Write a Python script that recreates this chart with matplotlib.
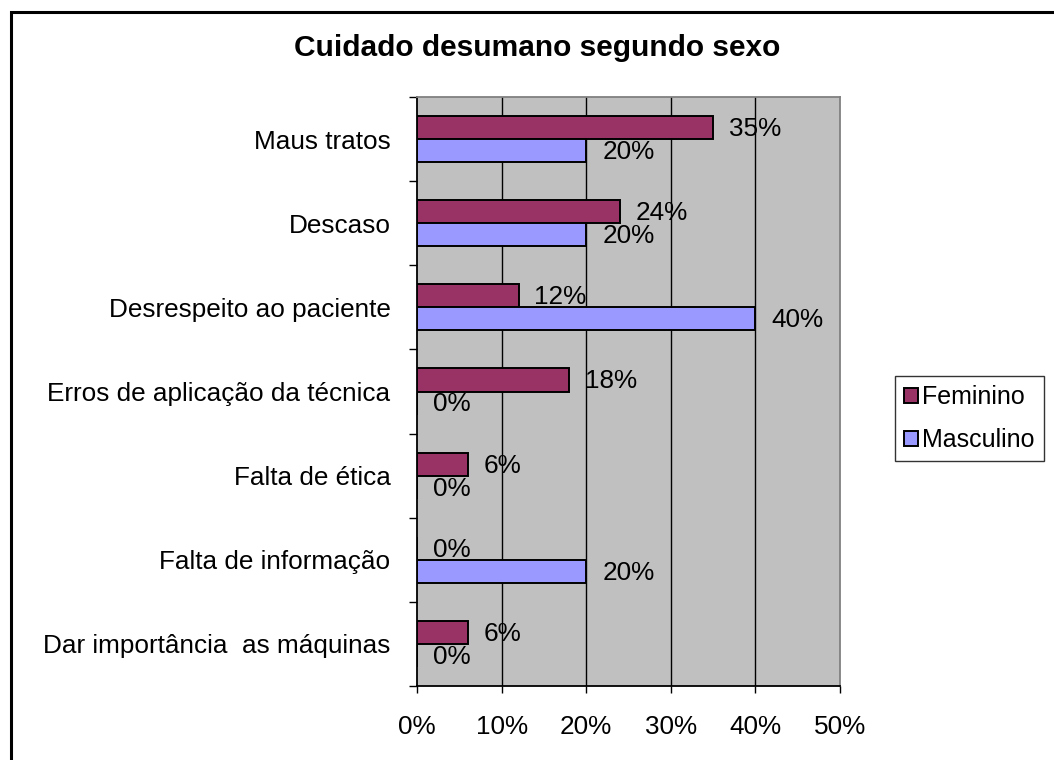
import matplotlib
matplotlib.use("Agg")
import matplotlib.pyplot as plt
from matplotlib.patches import Rectangle
import numpy as np

plt.rcParams['font.family'] = ['Liberation Sans', 'DejaVu Sans']

categories = ["Maus tratos", "Descaso", "Desrespeito ao paciente",
              "Erros de aplicação da técnica", "Falta de ética",
              "Falta de informação", "Dar importância  as máquinas"]
feminino = [35, 24, 12, 18, 6, 0, 6]
masculino = [20, 20, 40, 0, 0, 20, 0]
series_names = ["Feminino", "Masculino"]
xticks = [0, 10, 20, 30, 40, 50]

C_FEM = "#993366"
C_MAS = "#9999FF"

fig = plt.figure(figsize=(10.54, 7.6), dpi=100)
fig.patch.set_facecolor("white")
ax = fig.add_axes([417/1054, 1-686/760, (840-417)/1054, (686-97)/760])
ax.set_facecolor("#C0C0C0")

# outer chart border
fig.add_artist(Rectangle((11/1054, -0.05), 1.1, 1-12/760+0.05, transform=fig.transFigure,
                         fill=False, ec="black", lw=2.2, zorder=10))

y = np.arange(len(categories))
h = 0.274
b1 = ax.barh(y - h/2, feminino, height=h, color=C_FEM, ec="black", lw=1.4, zorder=3, label=series_names[0])
b2 = ax.barh(y + h/2, masculino, height=h, color=C_MAS, ec="black", lw=1.4, zorder=3, label=series_names[1])

for bars, vals in ((b1, feminino), (b2, masculino)):
    for bar, v in zip(bars, vals):
        ax.annotate(f"{v}%", xy=(v, bar.get_y() + bar.get_height()/2),
                    xytext=(11.5, -1), textcoords="offset points",
                    ha="left", va="center", fontsize=18.8, zorder=5)

ax.set_xlim(0, 50)
ax.set_ylim(len(categories) - 0.5, -0.5)
ax.set_xticks(xticks)
ax.set_xticklabels([f"{v}%" for v in xticks], fontsize=18.8)
ax.tick_params(axis="x", length=5, width=1, pad=16, direction="out")
ax.set_yticks(y)
ax.set_yticklabels(categories, fontsize=18.8)
ax.set_yticks(np.arange(len(categories) + 1) - 0.5, minor=True)
ax.tick_params(axis="y", which="major", length=0, pad=19)
ax.tick_params(axis="y", which="minor", length=6, width=1, direction="out")

for v in xticks[1:-1]:
    ax.axvline(v, color="black", lw=1, zorder=1)

for s in ("left", "bottom"):
    ax.spines[s].set_color("black")
    ax.spines[s].set_linewidth(1.3)
for s in ("top", "right"):
    ax.spines[s].set_color("#808080")
    ax.spines[s].set_linewidth(1.3)

fig.text(537/1054, 1-48/760, "Cuidado desumano segundo sexo", ha="center", va="center",
         fontsize=21.5, fontweight="bold")

leg = fig.legend(handles=[b1, b2], labels=series_names, loc="center left",
                 bbox_to_anchor=(895/1054, 1-418.5/760), fontsize=18,
                 frameon=True, fancybox=False, handlelength=0.55, handleheight=0.55,
                 handletextpad=0.2, borderpad=0.35, labelspacing=0.75, borderaxespad=0)
leg.get_frame().set_edgecolor("black")
leg.get_frame().set_linewidth(1.0)

fig.savefig("out.png", dpi=100, facecolor="white")
